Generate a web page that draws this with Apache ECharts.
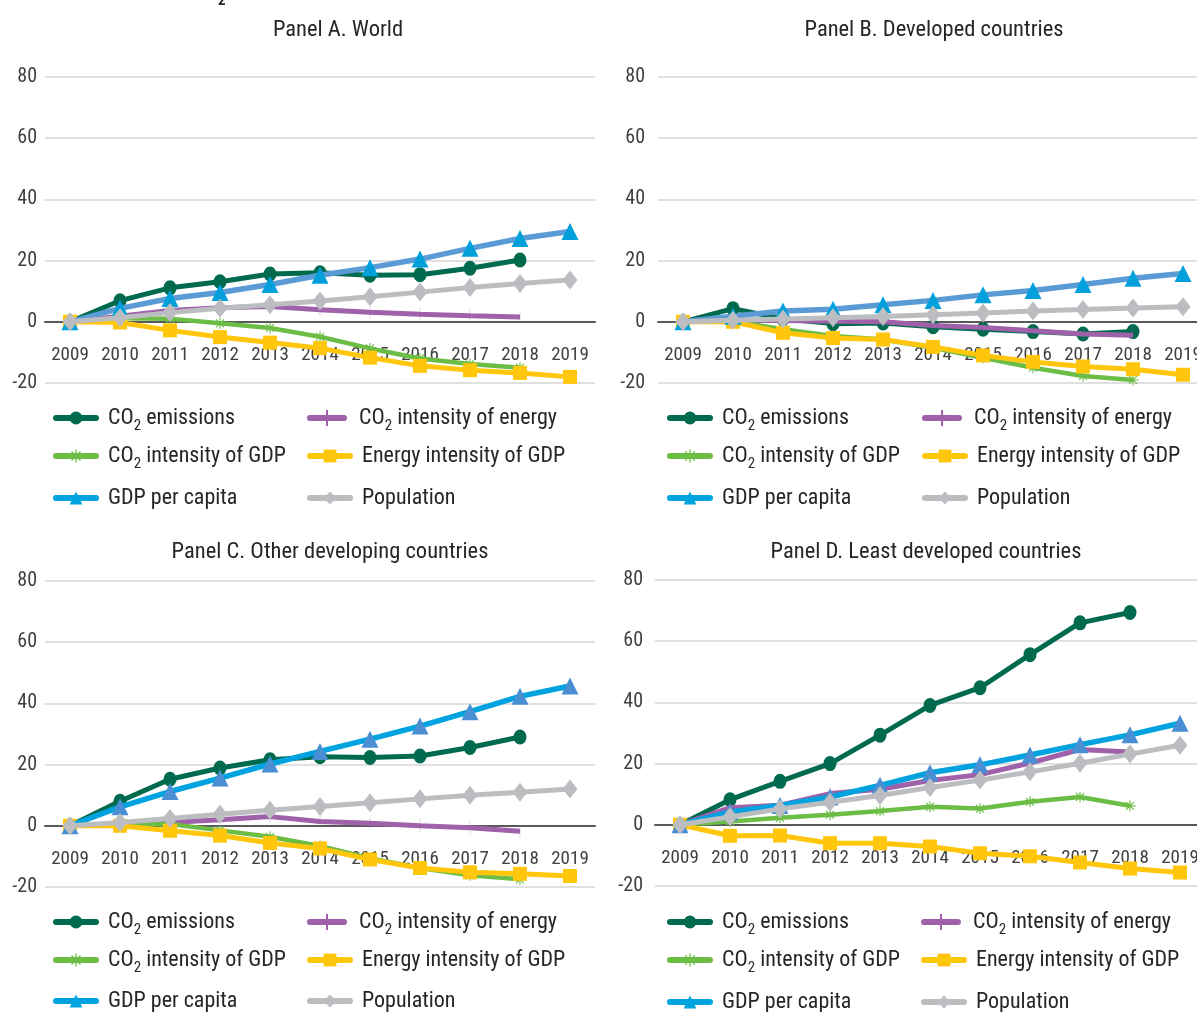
<!DOCTYPE html>
<html>
<head>
<meta charset="utf-8">
<script src="https://cdn.jsdelivr.net/npm/echarts@6/dist/echarts.min.js"></script>
<style>
html,body{margin:0;padding:0;background:#fff;}
#chart{width:1197px;height:1012px;}
</style>
</head>
<body>
<div id="chart"></div>
<script>
// ---------- DATA ----------
const years = ['2009','2010','2011','2012','2013','2014','2015','2016','2017','2018','2019'];
const yTicks = { min: -20, max: 80, interval: 20 };

const seriesNames = ['CO2 emissions','CO2 intensity of energy','CO2 intensity of GDP','Energy intensity of GDP','GDP per capita','Population'];
const panelTitles = ['Panel A. World','Panel B. Developed countries','Panel C. Other developing countries','Panel D. Least developed countries'];

// Panel A. World
const worldCO2      = [0, 6.9, 11.1, 13.1, 15.6, 16.0, 15.2, 15.4, 17.5, 20.2];
const worldCO2En    = [0, 1.8, 3.7, 4.6, 5.0, 3.9, 3.1, 2.5, 2.0, 1.6];
const worldCO2GDP   = [0, 1.2, 1.0, -0.5, -2.0, -4.9, -8.7, -12.0, -13.8, -15.0];
const worldEnGDP    = [0, -0.2, -2.8, -5.0, -6.8, -8.6, -11.7, -14.4, -15.8, -16.7, -18.0];
const worldGDPpc    = [0, 4.4, 7.6, 9.6, 12.2, 15.2, 17.7, 20.5, 24.0, 27.2, 29.5];
const worldPop      = [0, 1.3, 3.0, 4.4, 5.6, 6.8, 8.2, 9.7, 11.2, 12.5, 13.7];

// Panel B. Developed countries
const devCO2        = [0, 4.3, 1.0, -0.6, -0.4, -1.6, -2.4, -3.2, -4.0, -3.2];
const devCO2En      = [0, 0.4, 0.4, 0.2, 0.0, -1.2, -1.9, -2.9, -4.0, -4.4];
const devCO2GDP     = [0, 0.2, -2.4, -4.6, -5.8, -8.5, -11.8, -15.0, -17.7, -19.0];
const devEnGDP      = [0, 0.0, -3.6, -5.3, -5.8, -8.2, -11.0, -13.1, -14.6, -15.5, -17.3];
const devGDPpc      = [0, 1.8, 3.5, 4.1, 5.6, 7.0, 8.8, 10.2, 12.2, 14.2, 15.8];
const devPop        = [0, 0.5, 0.9, 1.3, 1.7, 2.3, 2.9, 3.5, 4.0, 4.5, 4.9];

// Panel C. Other developing countries
const odcCO2        = [0, 8.0, 15.2, 18.9, 21.6, 22.6, 22.3, 22.8, 25.6, 29.0];
const odcCO2En      = [0, 0.5, 1.1, 2.0, 3.0, 1.4, 0.8, 0.0, -0.6, -1.8];
const odcCO2GDP     = [0, 0.3, 0.6, -1.5, -3.6, -6.6, -10.6, -13.8, -16.2, -17.5];
const odcEnGDP      = [0, 0.0, -1.6, -3.2, -5.6, -7.4, -11.0, -13.8, -15.2, -15.7, -16.4];
const odcGDPpc      = [0, 6.2, 11.2, 15.6, 20.2, 24.3, 28.3, 32.6, 37.3, 42.3, 45.7];
const odcPop        = [0, 1.1, 2.4, 3.8, 5.1, 6.3, 7.5, 8.8, 10.0, 11.0, 12.0];

// Panel D. Least developed countries
const ldcCO2        = [0, 8.2, 14.2, 20.0, 29.3, 39.0, 44.8, 55.6, 66.0, 69.4];
const ldcCO2En      = [0, 5.6, 6.4, 10.2, 11.6, 14.5, 16.4, 20.2, 24.6, 23.8];
const ldcCO2GDP     = [0, 1.1, 2.3, 3.3, 4.5, 5.9, 5.3, 7.5, 9.1, 6.2];
const ldcEnGDP      = [0, -3.6, -3.5, -6.0, -6.0, -7.1, -9.3, -10.3, -12.3, -14.3, -15.6];
const ldcGDPpc      = [0, 4.2, 6.3, 9.1, 12.9, 17.0, 19.6, 22.8, 26.2, 29.4, 33.2];
const ldcPop        = [0, 2.6, 5.2, 7.4, 9.6, 12.2, 14.6, 17.3, 20.1, 23.1, 26.0];

const panelData = [
  [worldCO2, worldCO2En, worldCO2GDP, worldEnGDP, worldGDPpc, worldPop],
  [devCO2, devCO2En, devCO2GDP, devEnGDP, devGDPpc, devPop],
  [odcCO2, odcCO2En, odcCO2GDP, odcEnGDP, odcGDPpc, odcPop],
  [ldcCO2, ldcCO2En, ldcCO2GDP, ldcEnGDP, ldcGDPpc, ldcPop]
];

// ---------- LAYOUT / STYLE ----------
const FONT = '"Liberation Sans Narrow", "Roboto Condensed", "Arial Narrow", Roboto, sans-serif';
const TXT = '#262626';
const prefixes = ['A','B','C','D'];
const grids = [
  { left: 45,  top: 77,  width: 550, height: 306 },
  { left: 658, top: 77,  width: 550, height: 306 },
  { left: 45,  top: 581, width: 550, height: 306 },
  { left: 655, top: 580, width: 550, height: 306 }
];
const yLabelMargin = [8, 13, 8, 12];
const titlePos = [[338, 30], [934, 30], [330, 552], [926, 552]];
const legendCols = [[53, 307], [667, 922], [53, 307], [667, 921]];
const legendRows = [[417, 455, 497], [417, 455, 497], [921, 959, 1000], [921, 959, 1001]];

const asterisk = 'path://M9,0L11,0L11,20L9,20Z M2,3.4L3.4,2L18,16.6L16.6,18Z M16.6,2L18,3.4L3.4,18L2,16.6Z M0,9L20,9L20,11L0,11Z';
const plusBar = 'path://M0,0L2,0L2,14L0,14Z';
const purpleLegendIcon = 'path://M3,5L37,5A3,3,0,0,1,37,11L3,11A3,3,0,0,1,3,5Z M19,0L21,0L21,16L19,16Z';

function styleFor(si, pi) {
  const blueLine = (pi < 2) ? '#5b9bd5' : '#00a3e0';
  const blueMark = (pi < 2) ? '#00a0dc' : '#4a8fd3';
  return [
    { color: '#006a4e', line: '#006a4e', leg: '#006a4e', symbol: 'circle', size: [13, 15], width: 5 },
    { color: '#9e61aa', line: '#9e61aa', leg: '#9e61aa', symbol: plusBar, size: [2, 13], width: 5, keep: true, icon: purpleLegendIcon },
    { color: '#6cbd45', line: '#6cbd45', leg: '#6cbd45', symbol: asterisk, size: 11, width: 4.5 },
    { color: '#ffc60b', line: '#ffc60b', leg: '#ffc60b', symbol: 'rect', size: 14, width: 5 },
    { color: blueMark, line: blueLine, leg: '#00a3e0', legMark: '#00a3e0', symbol: 'triangle', size: 17, width: 5.5 },
    { color: '#bcbdc0', line: '#bcbdc0', leg: '#bcbdc0', symbol: 'diamond', size: [15, 19], width: 5 }
  ][si];
}

const option = {
  animation: false,
  backgroundColor: '#ffffff',
  textStyle: { fontFamily: FONT },
  grid: [], xAxis: [], yAxis: [], series: [], legend: [],
  graphic: []
};

// cropped figure heading remnant at the very top
option.graphic.push({
  type: 'text', x: 218, y: 9,
  style: { text: '2', fontFamily: FONT, fontSize: 15, fontWeight: 'bold', fill: TXT, verticalAlign: 'bottom' }
});

grids.forEach((g, pi) => {
  option.grid.push(Object.assign({ containLabel: false, outerBoundsMode: 'none' }, g));
  const zeroOffset = -g.height * (0 - yTicks.min) / (yTicks.max - yTicks.min);
  option.xAxis.push({
    type: 'category', gridIndex: pi, data: years, boundaryGap: true,
    position: 'bottom', offset: zeroOffset,
    axisTick: { show: false },
    axisLine: { onZero: false, lineStyle: { color: '#595959', width: 2 } },
    axisLabel: { color: '#404040', fontSize: 19, fontFamily: FONT, margin: 24, interval: 0 },
    splitLine: { show: false }
  });
  option.yAxis.push({
    type: 'value', gridIndex: pi, min: yTicks.min, max: yTicks.max, interval: yTicks.interval,
    axisLine: { show: false }, axisTick: { show: false },
    axisLabel: { color: '#404040', fontSize: 20, fontFamily: FONT, margin: yLabelMargin[pi] },
    splitLine: { lineStyle: { color: '#d6d6d6', width: 1.5 } }
  });
  option.graphic.push({
    type: 'text', x: titlePos[pi][0], y: titlePos[pi][1],
    style: { text: panelTitles[pi], fontFamily: FONT, fontSize: 22.5, fill: TXT, align: 'center', verticalAlign: 'middle' }
  });
  seriesNames.forEach((nm, si) => {
    const st = styleFor(si, pi);
    const full = prefixes[pi] + ':' + nm;
    option.series.push({
      type: 'line', name: full, xAxisIndex: pi, yAxisIndex: pi,
      data: panelData[pi][si],
      symbol: st.symbol, symbolSize: st.size, showAllSymbol: true,
      symbolKeepAspect: !!st.keep,
      lineStyle: { color: st.line, width: st.width },
      itemStyle: { color: st.color },
      z: 2 + si * 0.1,
      emphasis: { disabled: true }
    });
    const col = si % 2, row = Math.floor(si / 2);
    const legItem = st.icon ? { name: full, icon: st.icon } : full;
    option.legend.push({
      data: [legItem], left: legendCols[pi][col], top: legendRows[pi][row] - 10,
      padding: 0, itemWidth: 40, itemHeight: 16, selectedMode: false,
      lineStyle: { width: 6, color: st.leg, cap: 'round' },
      itemStyle: { color: st.legMark || st.color },
      formatter: (n) => n.split(':')[1].replace('CO2', 'CO{s|2}'),
      textStyle: {
        fontFamily: FONT, fontSize: 22, color: TXT, padding: [0, 0, 0, 7],
        rich: { s: { fontFamily: FONT, fontSize: 15, color: TXT, padding: [16, 0, 0, 0] } }
      }
    });
  });
});

const chart = echarts.init(document.getElementById('chart'), null, { renderer: 'canvas' });
chart.setOption(option);
</script>
</body>
</html>
